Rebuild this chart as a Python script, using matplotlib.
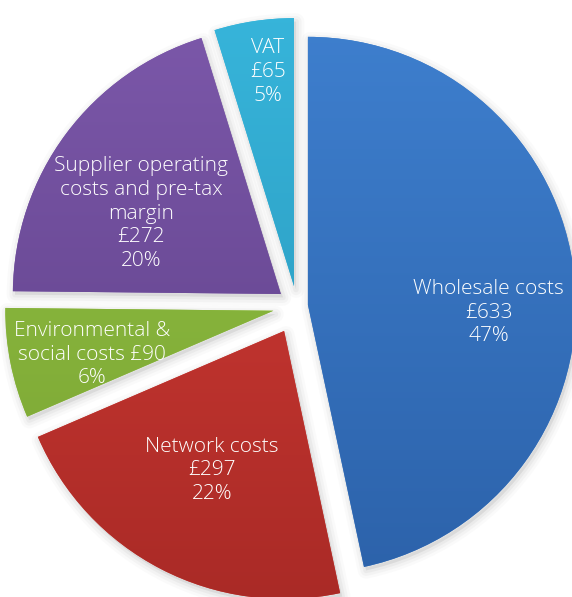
import numpy as np
import matplotlib
matplotlib.use('Agg')
import matplotlib.pyplot as plt
from matplotlib.colors import LinearSegmentedColormap
from matplotlib.patches import Wedge
import matplotlib.transforms as mtransforms

plt.rcParams['font.family'] = ['Open Sans', 'DejaVu Sans']

# data
categories = ['Wholesale costs', 'Network costs', 'Environmental &\nsocial costs',
              'Supplier operating\ncosts and pre-tax\nmargin', 'VAT']
values = [633, 297, 90, 272, 65]
percent_labels = ['47%', '22%', '6%', '20%', '5%']

# style
explode = [0.041, 0.105, 0.09, 0.075, 0.075]
top_colors = ['#3E7FCE', '#D43C36', '#93C243', '#7C58AA', '#37B5DB']
bottom_colors = ['#2C62AA', '#A92A26', '#79A333', '#5D3F86', '#2894B8']
label_r = [0.715, 0.69, 0.785, 0.675, 0.88]
label_nudge = [-8, 0, 2, 6, -1.5]

fig = plt.figure(figsize=(5.72, 5.97), dpi=100)
ax = fig.add_axes([0, 0, 1, 1])

wedges, _ = ax.pie(values, explode=explode, startangle=90, counterclock=False,
                   radius=1, colors=top_colors, wedgeprops=dict(linewidth=0))

# soft shadow / halo behind each slice
for w in wedges:
    for lw, a in [(12, 0.035), (8, 0.05), (4, 0.07)]:
        sh = Wedge(w.center, w.r, w.theta1, w.theta2, facecolor='#808080',
                   edgecolor='#808080', linewidth=lw, alpha=a, zorder=0.5,
                   joinstyle='round')
        sh.set_transform(mtransforms.offset_copy(ax.transData, fig=fig, x=1.5, y=-2.5, units='points'))
        ax.add_patch(sh)

# vertical gradient fill clipped to each slice
grad = np.linspace(1, 0, 256).reshape(-1, 1)
for w, c_top, c_bot in zip(wedges, top_colors, bottom_colors):
    w.set_zorder(1)
    cmap = LinearSegmentedColormap.from_list('g', [c_bot, c_top])
    cx, cy = w.center
    im = ax.imshow(grad, cmap=cmap, aspect='auto', zorder=1.1,
                   extent=[cx - 1.05, cx + 1.05, cy - 1.05, cy + 1.05],
                   interpolation='bicubic')
    im.set_clip_path(w)

# labels
for i, (w, cat, val, pct) in enumerate(zip(wedges, categories, values, percent_labels)):
    mid = np.deg2rad((w.theta1 + w.theta2) / 2 + label_nudge[i])
    x = label_r[i] * np.cos(mid)
    y = label_r[i] * np.sin(mid)
    if i == 2:
        txt = f'{cat} £{val}\n{pct}'
    else:
        txt = f'{cat}\n£{val}\n{pct}'
    ax.text(x, y, txt, ha='center', va='center', color='white', fontsize=15,
            fontweight='light', linespacing=1.25, zorder=3)

ax.set_xlim(-297 / 268, 275 / 268)
ax.set_ylim(-291 / 268, 306 / 268)
ax.set_aspect('auto')
ax.axis('off')

plt.savefig('out.png', dpi=100, facecolor='white')
plt.close()
